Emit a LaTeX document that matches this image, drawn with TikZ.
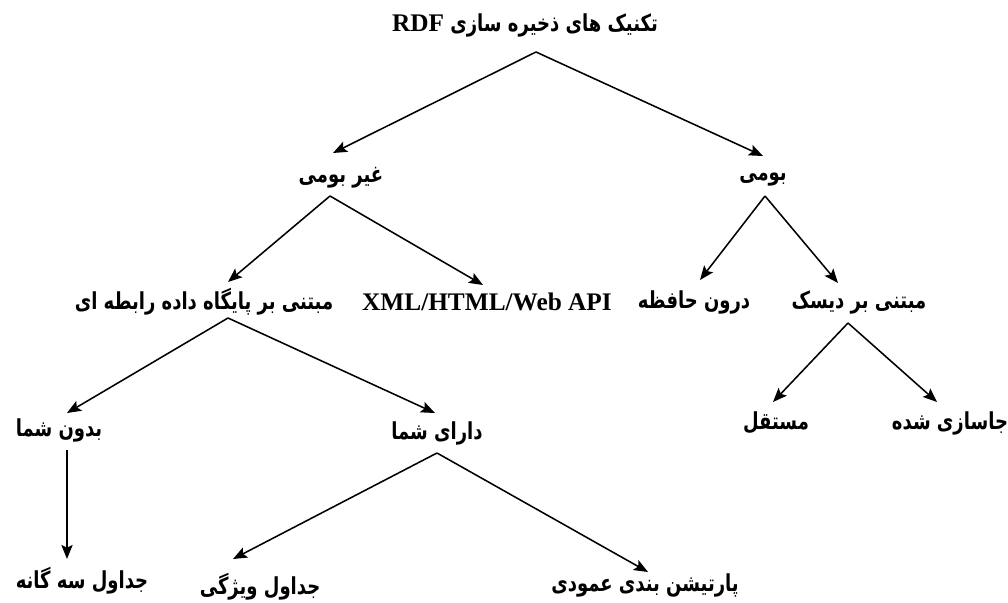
\documentclass[tikz,border=0pt]{standalone}
\usepackage{fontspec}
\usetikzlibrary{arrows.meta,calc}
\TeXXeTstate=1
\newfontfamily\fafont[Script=Arabic]{DejaVu Sans}
\newfontfamily\enfont{Liberation Serif}
\newcommand{\fa}[1]{\scalebox{1}[1.3]{\fafont\bfseries\beginR #1\endR}}
\newcommand{\en}[1]{{\enfont\bfseries\fontsize{18}{20}\selectfont #1}}
\begin{document}
\begin{tikzpicture}[x=0.025cm,y=-0.025cm,
  lbl/.style={inner sep=0pt, font=\fontsize{12.8}{15}\selectfont},
  arr/.style={-{Stealth[length=10pt,width=8pt,inset=2pt]}, line width=1.1pt}]
\useasboundingbox (0,0) rectangle (1008,603);
\draw (525,25) node[lbl](root) {\fa{تکنیک های ذخیره سازی \beginL\scalebox{1}[0.77]{\en{RDF}}\endL}} ;
  \draw (341,178) node[lbl](nonnative) {\fa{غیر بومی}} ;
    \draw (204,302) node[lbl](rel) {\fa{مبتنی بر پایگاه داده رابطه ای}} ;
      \draw (59,430) node[lbl](noschema) {\fa{بدون شما}} ;
        \draw (82,581) node[lbl](triple) {\fa{جداول سه گانه}} ;
      \draw (437,433) node[lbl](schema) {\fa{دارای شما}} ;
        \draw (260,587) node[lbl](proptab) {\fa{جداول ویژگی}} ;
        \draw (645,585) node[lbl](vertpart) {\fa{پارتیشن بندی عمودی}} ;
    \draw (487,302) node[lbl](xml) {\en{XML/HTML/Web API}} ;
  \draw (763,180) node[lbl](native) {\fa{بومی}} ;
    \draw (694,302) node[lbl](mem) {\fa{درون حافظه}} ;
    \draw (859,302) node[lbl](disk) {\fa{مبتنی بر دیسک}} ;
      \draw (776,423) node[lbl](standalone) {\fa{مستقل}} ;
      \draw (950,423) node[lbl](embedded) {\fa{جاسازی شده}} ;
\draw[arr] ($(root)+(11,27)$) -- ($(nonnative)+(-8,-25)$) ;
\draw[arr] ($(root)+(11,27)$) -- ($(native)+(0,-24)$) ;
  \draw[arr] ($(nonnative)+(-11,18)$) -- ($(rel)+(24,-20)$) ;
  \draw[arr] ($(nonnative)+(-11,18)$) -- ($(xml)+(-4,-17)$) ;
    \draw[arr] ($(rel)+(24,16)$) -- ($(noschema)+(8,-17)$) ;
    \draw[arr] ($(rel)+(24,16)$) -- ($(schema)+(-2,-20)$) ;
      \draw[arr] ($(noschema)+(8,20)$) -- ($(triple)+(-15,-22)$) ;
      \draw[arr] ($(schema)+(0,20)$) -- ($(proptab)+(-27,-28)$) ;
      \draw[arr] ($(schema)+(0,20)$) -- ($(vertpart)+(3,-13)$) ;
  \draw[arr] ($(native)+(2,16)$) -- ($(mem)+(6,-22)$) ;
  \draw[arr] ($(native)+(2,16)$) -- ($(disk)+(-21,-19)$) ;
    \draw[arr] ($(disk)+(-11,21)$) -- ($(standalone)+(-3,-21)$) ;
    \draw[arr] ($(disk)+(-11,21)$) -- ($(embedded)+(-13,-21)$) ;
\end{tikzpicture}
\end{document}
